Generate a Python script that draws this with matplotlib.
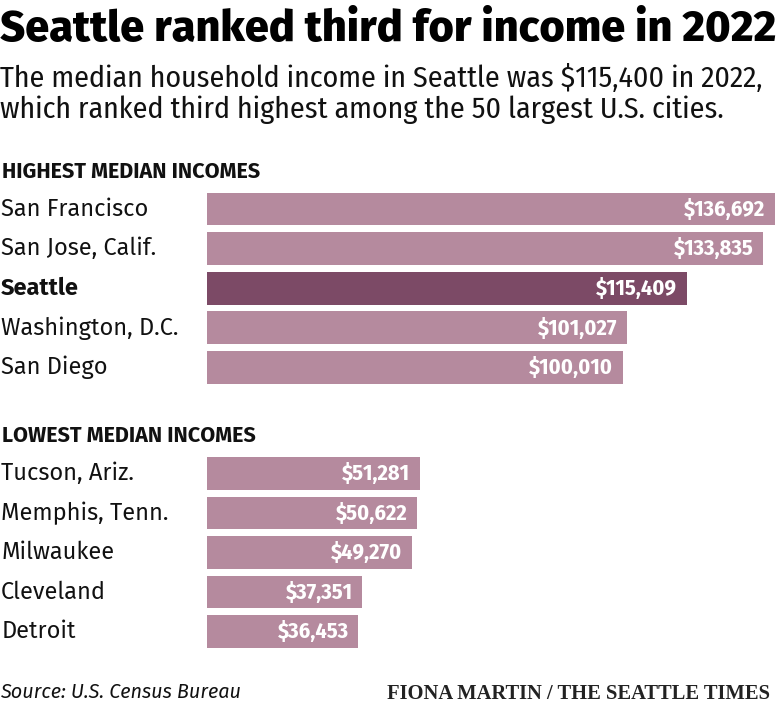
import matplotlib
matplotlib.use("Agg")
import matplotlib.pyplot as plt

# data
top_cities = ["San Francisco", "San Jose, Calif.", "Seattle", "Washington, D.C.", "San Diego"]
top_income = [136692, 133835, 115409, 101027, 100010]
low_cities = ["Tucson, Ariz.", "Memphis, Tenn.", "Milwaukee", "Cleveland", "Detroit"]
low_income = [51281, 50622, 49270, 37351, 36453]
highlight = "Seattle"

LIGHT = "#b58a9e"
DARK = "#7c4a66"
SANS = ["Fira Sans", "DejaVu Sans"]
COND = ["Fira Sans Condensed", "DejaVu Sans"]

W, H = 780, 704
fig = plt.figure(figsize=(W / 100, H / 100), dpi=100)

def fy(py):
    return 1 - py / H

# bars start at x=207 px, SF ends near 775 px
x0 = 207
xmax = 137900

def group(top_px, bottom_px, cities, income):
    ax = fig.add_axes([x0 / W, fy(bottom_px), (W - x0) / W, (bottom_px - top_px) / H])
    n = len(cities)
    cols = [DARK if c == highlight else LIGHT for c in cities]
    ax.barh(range(n), income, height=0.83, color=cols, edgecolor="none")
    ax.set_xlim(0, xmax)
    ax.set_ylim(n - 0.5, -0.5)
    ax.axis("off")
    for i, (c, v) in enumerate(zip(cities, income)):
        ax.text(-x0 / (W - x0) + 0.002, i + 0.17, c, transform=ax.get_yaxis_transform(),
                ha="left", va="baseline", fontsize=17, family=SANS,
                fontweight="bold" if c == highlight else "normal", color="#111111")
        ax.annotate(f"${v:,}", (v, i + 0.17), xytext=(-7, 0), textcoords="offset points",
                    ha="right", va="baseline", fontsize=16, family=COND,
                    fontweight="bold", color="white")
    return ax

group(189.2, 387.3, top_cities, top_income)
group(453.7, 651.3, low_cities, low_income)

fig.text(0.0, fy(41), "Seattle ranked third for income in 2022", ha="left", va="baseline",
         fontsize=31.2, fontweight="heavy", family=SANS, color="black")
fig.text(0.0, fy(87), "The median household income in Seattle was $115,400 in 2022,",
         ha="left", va="baseline", fontsize=21.5, family=COND, color="#111111")
fig.text(0.0, fy(118), "which ranked third highest among the 50 largest U.S. cities.",
         ha="left", va="baseline", fontsize=21.5, family=COND, color="#111111")

fig.text(0.002, fy(178), "HIGHEST MEDIAN INCOMES", ha="left", va="baseline",
         fontsize=15.5, fontweight="bold", family=SANS, color="#111111")
fig.text(0.002, fy(442), "LOWEST MEDIAN INCOMES", ha="left", va="baseline",
         fontsize=15.5, fontweight="bold", family=SANS, color="#111111")

fig.text(0.0, fy(698), "Source: U.S. Census Bureau", ha="left", va="baseline",
         fontsize=14.3, style="italic", family=SANS, color="#111111")
fig.text(770 / W, fy(699), "FIONA MARTIN / THE SEATTLE TIMES", ha="right", va="baseline",
         fontsize=14.8, family=["Liberation Serif", "DejaVu Serif"], fontweight="bold", color="#222222")

fig.savefig("out.png", dpi=100, facecolor="white")
